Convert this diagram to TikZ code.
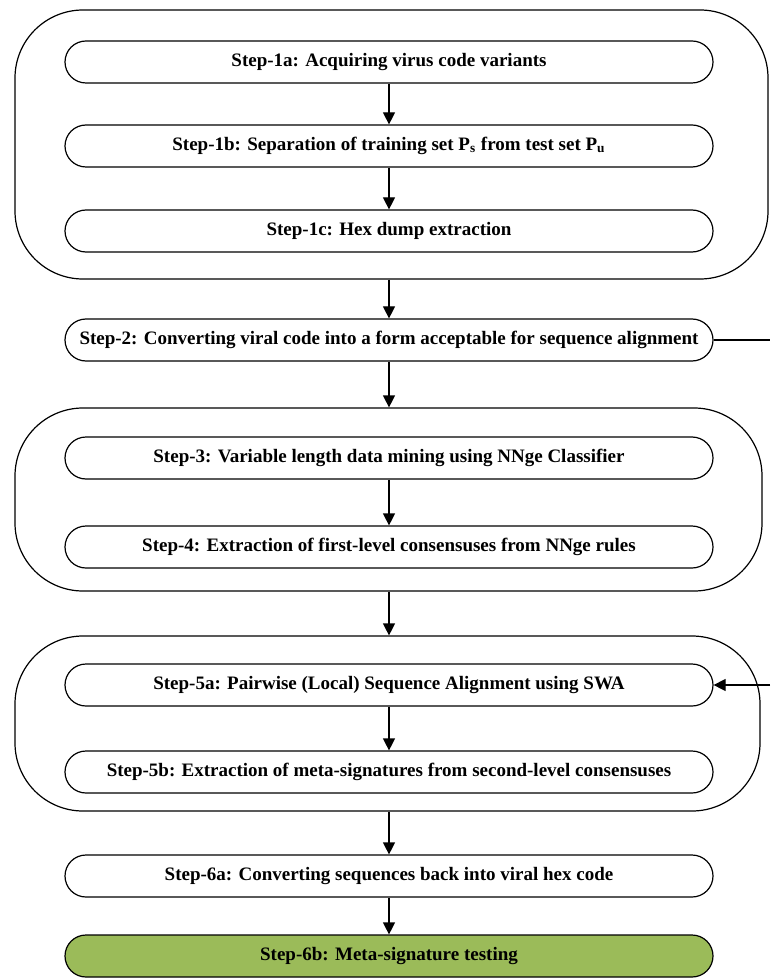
\documentclass[tikz,border=0pt]{standalone}
\usepackage{fontspec}
\setmainfont{Liberation Serif}
\usetikzlibrary{arrows.meta}
\definecolor{ink}{HTML}{000000}
\definecolor{olive}{HTML}{9BBB59}

\begin{document}
\begin{tikzpicture}[
  x=0.5pt, y=-0.5pt,
  font=\fontsize{9.5}{11}\selectfont\bfseries,
  stepbox/.style = {draw=ink, line width=0.6pt, rounded corners=10.5pt, fill=white,
                    minimum width=324pt, minimum height=21pt, inner sep=0pt},
  final/.style   = {stepbox, fill=olive},
  grp/.style     = {draw=ink, line width=0.6pt, rounded corners=34pt, inner sep=0pt},
  arr/.style     = {-{Triangle[length=6pt,width=6pt]}, draw=ink, line width=0.6pt},
]
\useasboundingbox (0,0) rectangle (770,978);

% ---------- groups ----------
\node[grp, minimum width=376.5pt, minimum height=134.5pt] (g1) at (391.5,144.5) {};
\node[grp, minimum width=373.5pt, minimum height=91.5pt] (g2) at (388.5,499.5) {};
\node[grp, minimum width=372.5pt, minimum height=87.5pt] (g3) at (387.5,723.5) {};

% ---------- steps ----------
\node[stepbox] (s1a) at (389,62)  {Step-1a: Acquiring virus code variants};
\node[stepbox] (s1b) at (389,146) {Step-1b: Separation of training set P\textsubscript{s} from test set P\textsubscript{u}};
\node[stepbox] (s1c) at (389,231) {Step-1c: Hex dump extraction};
\node[stepbox] (s2)  at (389,340) {Step-2: Converting viral code into a form acceptable for sequence alignment};
\node[stepbox] (s3)  at (389,458) {Step-3: Variable length data mining using NNge Classifier};
\node[stepbox] (s4)  at (389,547) {Step-4: Extraction of first-level consensuses from NNge rules};
\node[stepbox] (s5a) at (389,685) {Step-5a: Pairwise (Local) Sequence Alignment using SWA};
\node[stepbox] (s5b) at (389,772) {Step-5b: Extraction of meta-signatures from second-level consensuses};
\node[stepbox] (s6a) at (389,876) {Step-6a: Converting sequences back into viral hex code};
\node[final]   (s6b) at (389,956) {Step-6b: Meta-signature testing};

\coordinate (loopout) at (770,340);
\coordinate (loopin)  at (770,685);

% ---------- arrows ----------
\draw[arr] (s1a) -- (s1b);
\draw[arr] (s1b) -- (s1c);
\draw[arr] (s2.north |- g1.south) -- (s2);
\draw[arr] (s2) -- (s2.south |- g2.north);
\draw[arr] (s3) -- (s4);
\draw[arr] (s4.south |- g2.south) -- (s4.south |- g3.north);
\draw[arr] (s5a) -- (s5b);
\draw[arr] (s5b.south |- g3.south) -- (s6a);
\draw[arr] (s6a) -- (s6b);
\draw[draw=ink, line width=0.6pt] (s2) -- (loopout);
\draw[arr] (loopin) -- (s5a);

\end{tikzpicture}
\end{document}
